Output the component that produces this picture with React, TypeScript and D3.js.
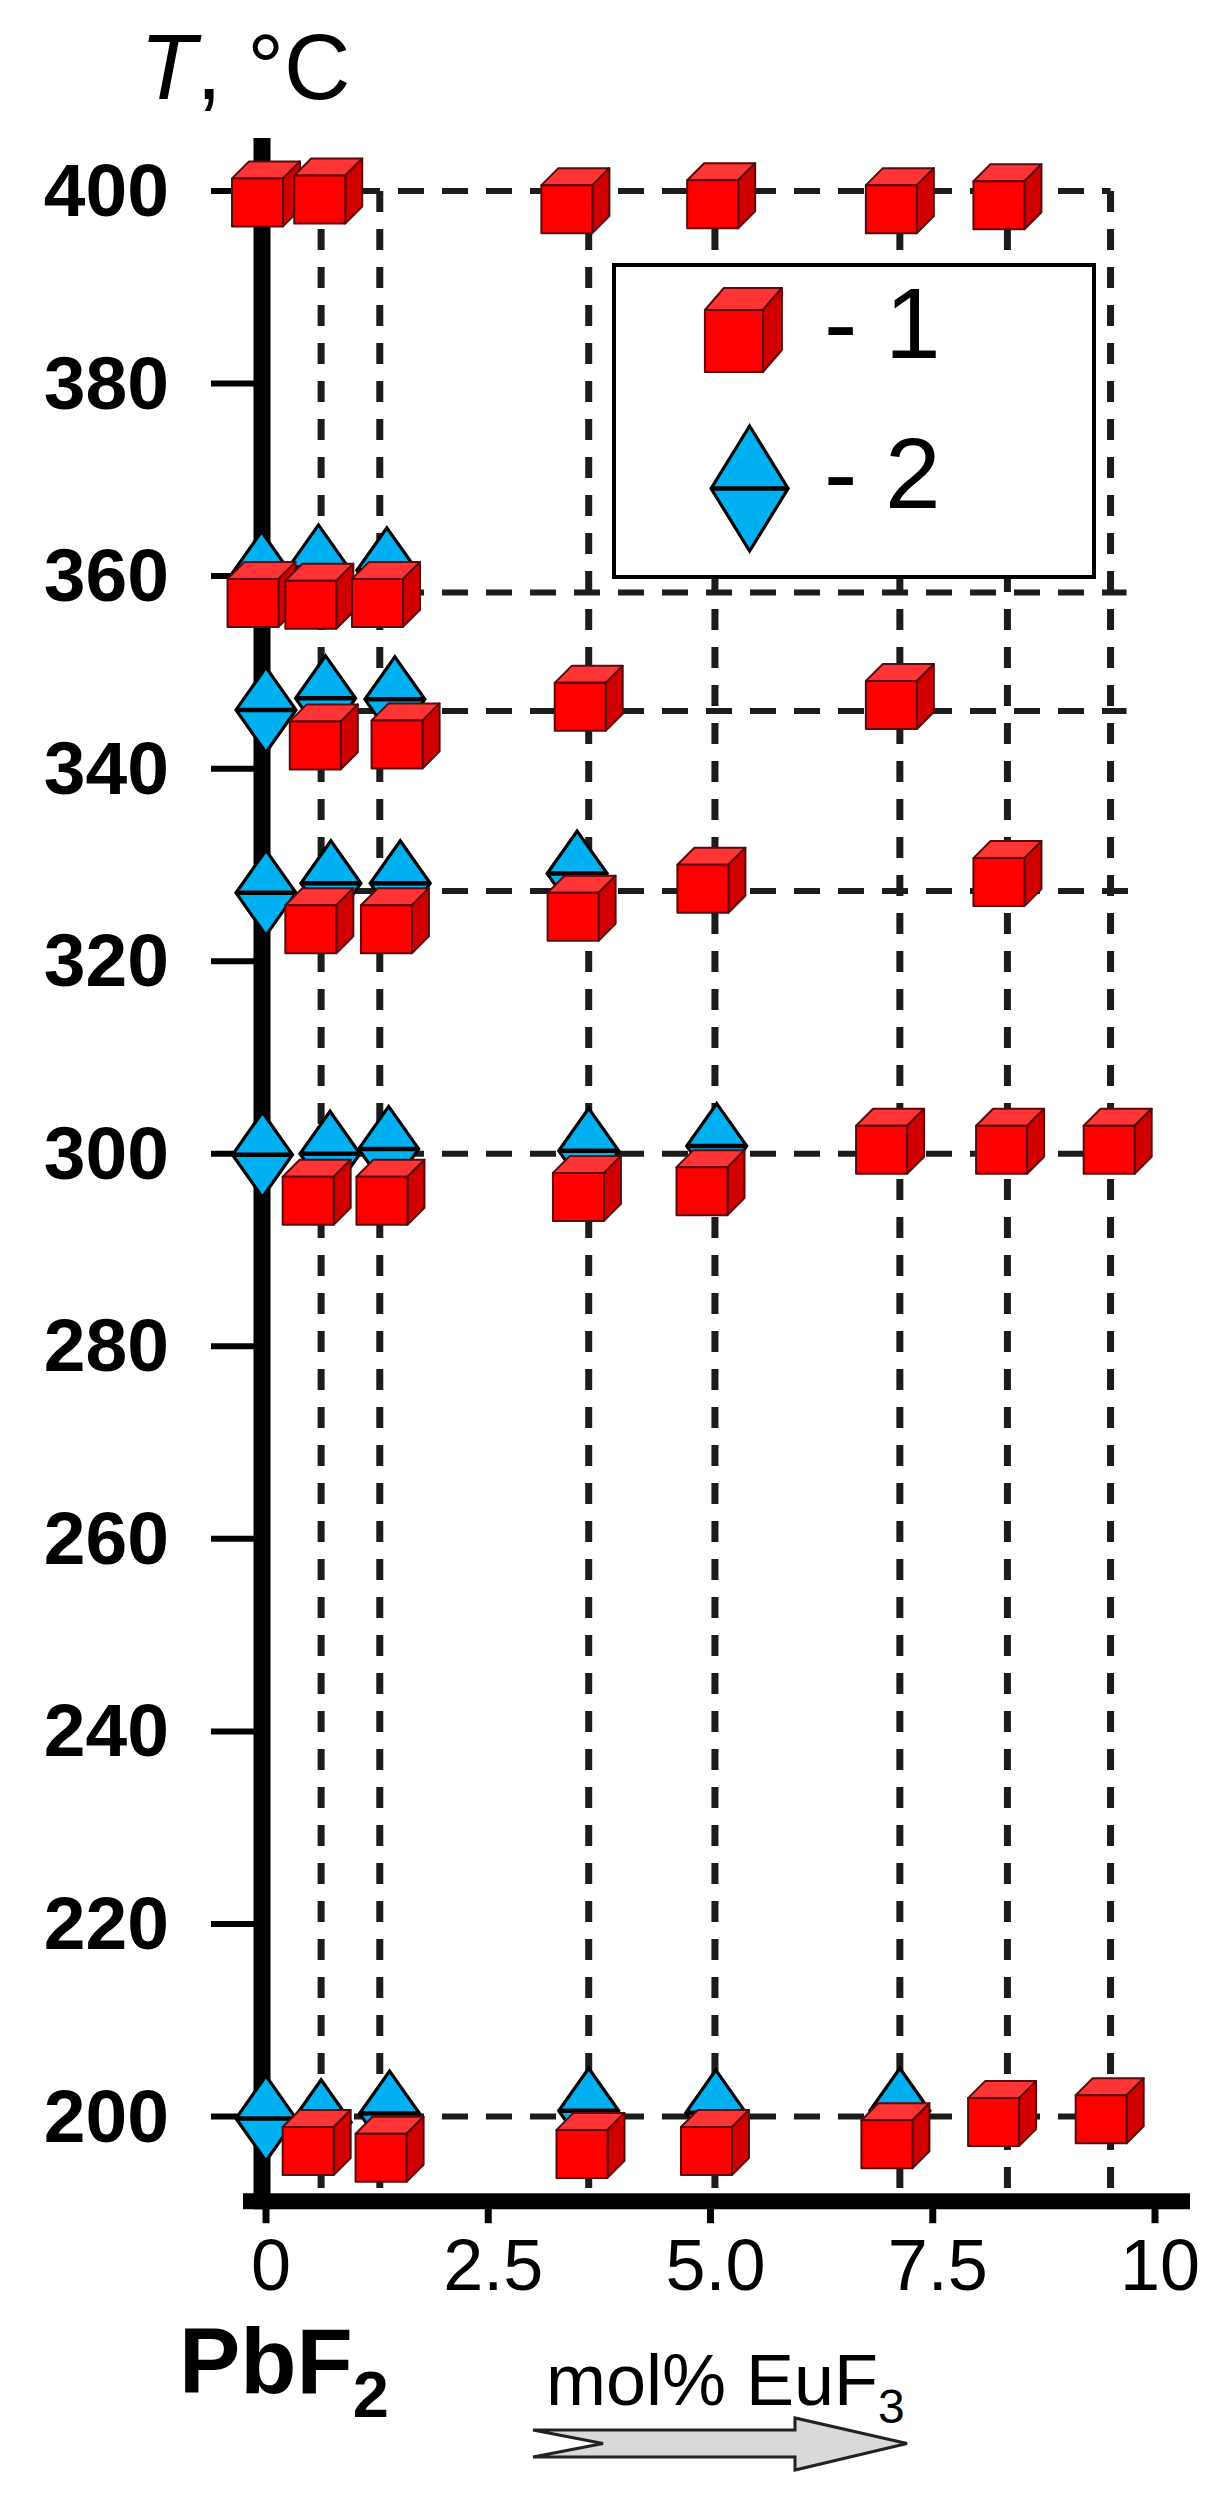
import React from "react";
import * as d3 from "d3";

// ---- data ----
const X_TICKS = [0, 2.5, 5, 7.5, 10];
const X_TICK_LABELS = ["0", "2.5", "5.0", "7.5", "10"];
const Y_TICKS = [200, 220, 240, 260, 280, 300, 320, 340, 360, 380, 400];

// guide lines (compositions and temperatures)
const GUIDE_X = [0.62, 1.28, 3.63, 5.05, 7.13, 8.34, 9.5];
const GUIDE_T = [400, 358.3, 346, 327.3, 300, 200];
const GUIDE_T_END = [9.5, 9.68, 9.68, 9.75, 9.5, 9.5];

// series 1 (red cubes)
const S1_X = [
  0, 0.7, 3.48, 5.12, 7.13, 8.34,
  -0.05, 0.6, 1.35,
  0.65, 1.57, 3.63, 7.13,
  0.6, 1.45, 3.55, 5.01, 8.34,
  0.57, 1.4, 3.61, 5.0, 7.02, 8.37, 9.58,
  0.57, 1.39, 3.65, 5.05, 7.08, 8.28, 9.49,
];
const S1_T = [
  399.7, 400, 399, 399.5, 399, 399.4,
  358.1, 357.9, 358.1,
  343.3, 343.4, 347.3, 347.5,
  324.2, 324.2, 325.5, 328.4, 329.1,
  296, 296, 296.4, 297, 301.3, 301.3, 301.3,
  197.3, 196.6, 197, 197.3, 198, 200.3, 200.6,
];

// series 2 (blue diamonds)
const S2_X = [
  -0.05, 0.59, 1.36,
  0, 0.67, 1.45,
  0, 0.73, 1.51, 3.5,
  -0.04, 0.72, 1.38, 3.63, 5.07,
  0, 0.62, 1.39, 3.63, 5.06, 7.13,
];
const S2_T = [
  360.2, 360.9, 360.6,
  346.1, 347.3, 347.2,
  327.1, 328.1, 328.1, 329.1,
  299.9, 300, 300.5, 300.3, 300.8,
  199.8, 199.4, 200.3, 200.6, 200.4, 200.6,
];

const LEGEND_LABELS = ["- 1", "- 2"];

// ---- styling ----
const RED_FRONT = "#ff0000";
const RED_TOP = "#ff3535";
const RED_SIDE = "#d00000";
const RED_EDGE = "#5a0a0a";
const BLUE = "#00b0f0";
const INK = "#000";
const DASH = "#1c1c1c";

const W = 1227;
const H = 2510;

const x = d3.scaleLinear().domain([0, 10]).range([266, 1155]);
const y = d3.scaleLinear().domain([200, 400]).range([2116.5, 191]);

function Cube({ cx, cy, w, h, dx, dy }: { cx: number; cy: number; w: number; h: number; dx: number; dy: number }) {
  const x0 = cx - (w + dx) / 2;
  const y0 = cy - (h + dy) / 2 + dy;
  const top = [
    [x0, y0],
    [x0 + dx, y0 - dy],
    [x0 + w + dx, y0 - dy],
    [x0 + w, y0],
  ];
  const side = [
    [x0 + w, y0],
    [x0 + w + dx, y0 - dy],
    [x0 + w + dx, y0 + h - dy],
    [x0 + w, y0 + h],
  ];
  const pts = (p: number[][]) => p.map((q) => q.join(",")).join(" ");
  return (
    <g stroke={RED_EDGE} strokeWidth={2} strokeLinejoin="round">
      <polygon points={pts(top)} fill={RED_TOP} />
      <polygon points={pts(side)} fill={RED_SIDE} />
      <rect x={x0} y={y0} width={w} height={h} fill={RED_FRONT} />
    </g>
  );
}

function Diamond({ cx, cy, rx, ry }: { cx: number; cy: number; rx: number; ry: number }) {
  const p = `${cx},${cy - ry} ${cx + rx},${cy} ${cx},${cy + ry} ${cx - rx},${cy}`;
  return (
    <g>
      <polygon points={p} fill={BLUE} stroke={INK} strokeWidth={3.2} strokeLinejoin="miter" />
      <line x1={cx - rx} x2={cx + rx} y1={cy} y2={cy} stroke={INK} strokeWidth={4.5} />
    </g>
  );
}

export default function App() {
  const yBase = y(191.2); // x-axis line position
  const axisX = 262;
  const font = "'Liberation Sans', Arial, sans-serif";

  // arrow shape under the "mol% EuF3" label
  const ax0 = 533, ax1 = 795, ax2 = 907, ay = 2443.5;
  const arrow = [
    [ax0, ay - 13.5],
    [ax1, ay - 13.5],
    [ax1, ay - 25.5],
    [ax2, ay],
    [ax1, ay + 26.5],
    [ax1, ay + 13.5],
    [ax0, ay + 13.5],
    [ax0 + 70, ay],
  ]
    .map((q) => q.join(","))
    .join(" ");

  return (
    <svg
      width={W}
      height={H}
      viewBox={`0 0 ${W} ${H}`}
      style={{ position: "absolute", left: 0, top: 0, background: "#fff" }}
      fontFamily={font}
    >
      <rect x={0} y={0} width={W} height={H} fill="#fff" />

      {/* dashed guide lines */}
      <g stroke={DASH} fill="none">
        {GUIDE_X.map((v, i) => (
          <line
            key={"gx" + i}
            x1={x(v)}
            x2={x(v)}
            y1={y(400)}
            y2={yBase}
            strokeWidth={7}
            strokeDasharray="21 17"
          />
        ))}
        {GUIDE_T.map((t, i) => (
          <line
            key={"gt" + i}
            x1={x(0)}
            x2={x(GUIDE_T_END[i])}
            y1={y(t)}
            y2={y(t)}
            strokeWidth={6}
            strokeDasharray="26 18"
          />
        ))}
      </g>

      {/* y axis ticks */}
      <g stroke={INK}>
        {Y_TICKS.map((t) => (
          <line key={"yt" + t} x1={211} x2={axisX} y1={y(t)} y2={y(t)} strokeWidth={6} />
        ))}
        {X_TICKS.map((v) => (
          <line key={"xt" + v} x1={x(v)} x2={x(v)} y1={yBase} y2={yBase + 22} strokeWidth={7} />
        ))}
      </g>

      {/* axes */}
      <line x1={axisX} x2={axisX} y1={138} y2={yBase + 8} stroke={INK} strokeWidth={17} />
      <line x1={243} x2={1190} y1={yBase} y2={yBase} stroke={INK} strokeWidth={16} />

      {/* y tick labels */}
      <g fontWeight="bold" fontSize={75} textAnchor="end" fill={INK}>
        {Y_TICKS.map((t) => (
          <text key={"yl" + t} x={169} y={y(t) + 25}>
            {t}
          </text>
        ))}
      </g>

      {/* x tick labels */}
      <g fontSize={72} textAnchor="middle" fill={INK}>
        {X_TICKS.map((v, i) => (
          <text key={"xl" + v} x={x(v) + 5} y={2290}>
            {X_TICK_LABELS[i]}
          </text>
        ))}
      </g>

      {/* series 2: diamonds */}
      {S2_X.map((v, i) => (
        <Diamond key={"d" + i} cx={x(v)} cy={y(S2_T[i])} rx={30} ry={42.5} />
      ))}

      {/* series 1: cubes */}
      {S1_X.map((v, i) => (
        <Cube key={"c" + i} cx={x(v)} cy={y(S1_T[i])} w={51} h={48} dx={17} dy={17} />
      ))}

      {/* legend */}
      <rect x={614} y={265} width={480} height={312} fill="#fff" stroke={INK} strokeWidth={4} />
      <Cube cx={743.4} cy={330} w={58} h={62} dx={19} dy={22} />
      <Diamond cx={749.6} cy={488.5} rx={38.5} ry={62.5} />
      <g fontSize={100} fill={INK}>
        <text x={824} y={358}>{LEGEND_LABELS[0]}</text>
        <text x={824} y={508}>{LEGEND_LABELS[1]}</text>
      </g>

      {/* axis title T, °C */}
      <text x={140} y={99} fontSize={92} fill={INK}>
        <tspan fontStyle="italic">T</tspan>, °C
      </text>

      {/* PbF2 */}
      <text x={179} y={2393} fontSize={92} fontWeight="bold" fill={INK}>
        PbF<tspan fontSize={65} dy={24}>2</tspan>
      </text>

      {/* mol% EuF3 */}
      <text x={546} y={2405} fontSize={72} fill={INK}>
        mol% EuF<tspan fontSize={48} dy={18}>3</tspan>
      </text>

      {/* arrow */}
      <polygon points={arrow} fill="#d9d9d9" stroke="#222" strokeWidth={3} strokeLinejoin="miter" />
    </svg>
  );
}
